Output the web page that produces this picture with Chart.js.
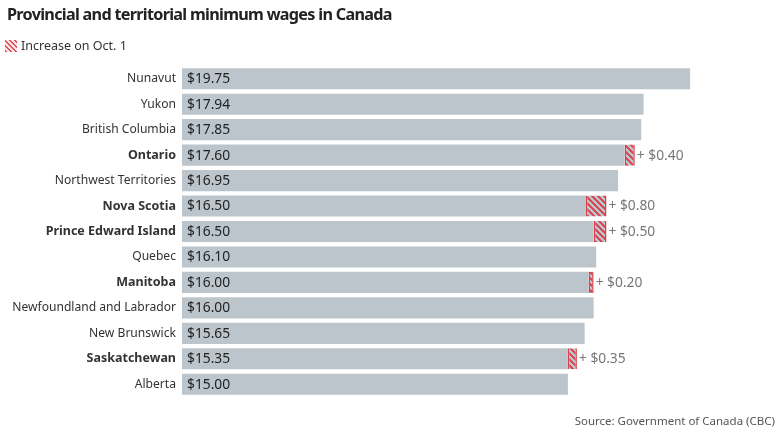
<!DOCTYPE html>
<html>
<head>
<meta charset="utf-8">
<script src="https://cdn.jsdelivr.net/npm/chart.js@4"></script>
<style>
  html, body { margin: 0; padding: 0; background: #fff; }
  #wrap { position: relative; width: 780px; height: 439px; overflow: hidden; font-family: "Noto Sans", sans-serif; }
  #title { position: absolute; left: 7px; top: 3px; font-size: 16.2px; letter-spacing: -0.7px; font-weight: bold; color: #222; white-space: nowrap; }
  #legend { position: absolute; left: 5px; top: 37px; font-size: 12.5px; color: #333; display: flex; align-items: center; white-space: nowrap; }
  #swatch { width: 12px; height: 12px; margin-right: 4px; background: repeating-linear-gradient(45deg, #e0505a 0px, #e0505a 1.6px, #fbe3e4 1.6px, #fbe3e4 3.6px); }
  #source { position: absolute; right: 5px; top: 413px; font-size: 11.5px; color: #555; white-space: nowrap; }
  canvas { position: absolute; left: 0; top: 0; }
</style>
</head>
<body>
<div id="wrap">
  <canvas id="c" width="780" height="439"></canvas>
  <div id="title">Provincial and territorial minimum wages in Canada</div>
  <div id="legend"><div id="swatch"></div>Increase on Oct. 1</div>
  <div id="source">Source: Government of Canada (CBC)</div>
</div>
<script>
const categories = ["Nunavut", "Yukon", "British Columbia", "Ontario", "Northwest Territories", "Nova Scotia", "Prince Edward Island", "Quebec", "Manitoba", "Newfoundland and Labrador", "New Brunswick", "Saskatchewan", "Alberta"];
const wages = [19.75, 17.94, 17.85, 17.60, 16.95, 16.50, 16.50, 16.10, 16.00, 16.00, 15.65, 15.35, 15.00];
const increases = [0, 0, 0, 0.40, 0, 0.80, 0.50, 0, 0.20, 0, 0, 0.35, 0];

const baseValues = wages.map((w, i) => +(w - increases[i]).toFixed(2));

function makePattern() {
  const s = 6;
  const pc = document.createElement('canvas');
  pc.width = s; pc.height = s;
  const p = pc.getContext('2d');
  p.fillStyle = '#bccdd5';
  p.fillRect(0, 0, s, s);
  p.strokeStyle = '#d8424c';
  p.lineWidth = 2;
  p.beginPath();
  p.moveTo(-1, -1); p.lineTo(s + 1, s + 1);
  p.moveTo(-s - 1, -1); p.lineTo(1, s + 1);
  p.moveTo(s - 1, -1); p.lineTo(2 * s + 1, s + 1);
  p.stroke();
  return p.createPattern(pc, 'repeat');
}

const ctx = document.getElementById('c').getContext('2d');
const hatch = makePattern();

const labelPlugin = {
  id: 'labels',
  afterDatasetsDraw(chart) {
    const c = chart.ctx;
    const xs = chart.scales.x, ys = chart.scales.y;
    c.save();
    c.font = '13.8px "Noto Sans", sans-serif';
    c.textBaseline = 'middle';
    categories.forEach((cat, i) => {
      const y = ys.getPixelForValue(i);
      c.fillStyle = '#222';
      c.textAlign = 'left';
      c.fillText('$' + wages[i].toFixed(2), xs.getPixelForValue(0) + 5, y + 0.5);
      if (increases[i] > 0) {
        c.fillStyle = '#777';
        c.fillText('+ $' + increases[i].toFixed(2), xs.getPixelForValue(wages[i]) + 2, y + 0.5);
      }
    });
    c.restore();
  }
};

new Chart(ctx, {
  type: 'bar',
  data: {
    labels: categories,
    datasets: [
      {
        data: baseValues,
        backgroundColor: '#bcc5cc',
        borderWidth: 0,
        barPercentage: 0.83,
        categoryPercentage: 1
      },
      {
        data: increases,
        backgroundColor: hatch,
        borderColor: '#d8424c',
        borderWidth: { left: 1.5, right: 1.5, top: 0, bottom: 0 },
        borderSkipped: false,
        barPercentage: 0.83,
        categoryPercentage: 1
      }
    ]
  },
  options: {
    indexAxis: 'y',
    responsive: false,
    animation: false,
    layout: { padding: { top: 66, bottom: 42, right: 32, left: 0 } },
    plugins: { legend: { display: false }, tooltip: { enabled: false } },
    scales: {
      x: { stacked: true, display: false, min: 0, max: 22 },
      y: {
        stacked: true,
        grid: { display: false, drawTicks: false },
        border: { display: false },
        afterFit(scale) { scale.width = 182; },
        ticks: {
          padding: 6,
          color: '#333',
          font: (c) => increases[c.index] > 0
            ? { family: '"Noto Sans", sans-serif', size: 12.5, weight: 'bold' }
            : { family: '"Noto Sans", sans-serif', size: 12.1, weight: 'normal' }
        }
      }
    }
  },
  plugins: [labelPlugin]
});
</script>
</body>
</html>
